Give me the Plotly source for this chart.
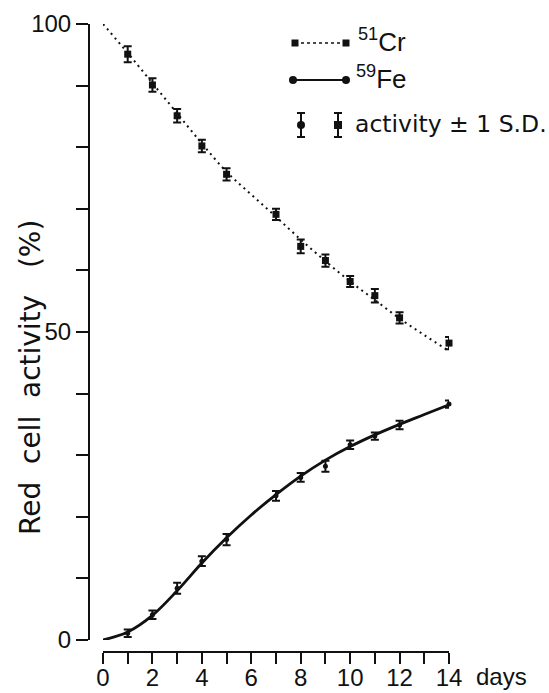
import plotly.graph_objects as go

# ---- data ----
days = [1, 2, 3, 4, 5, 7, 8, 9, 10, 11, 12, 14]
cr_activity = [95.1, 90.1, 85.1, 80.2, 75.6, 69.1, 63.9, 61.6, 58.2, 55.9, 52.3, 48.2]
cr_sd = [1.3, 1.1, 1.1, 1.0, 1.0, 0.9, 1.1, 1.0, 0.9, 1.1, 0.9, 1.0]
fe_activity = [1.1, 4.1, 8.4, 12.8, 16.3, 23.4, 26.4, 28.2, 31.7, 33.1, 34.9, 38.3]
fe_sd = [0.6, 0.7, 0.9, 0.8, 0.9, 0.8, 0.7, 0.9, 0.7, 0.6, 0.7, 0.6]

curve_days = [0, 1, 2, 3, 4, 5, 6, 7, 8, 9, 10, 11, 12, 13, 14]
cr_curve = [100, 95.3, 90.4, 85.5, 80.6, 76.0, 72.3, 68.7, 65.0, 61.5, 58.2, 55.2, 52.2, 49.5, 46.9]
fe_curve = [0, 1.3, 4.0, 8.0, 12.5, 16.6, 20.3, 23.6, 26.6, 29.2, 31.4, 33.3, 35.0, 36.6, 38.2]

x_tick_vals = list(range(0, 15))
x_tick_text = [str(v) if v % 2 == 0 else "" for v in x_tick_vals]
y_tick_vals = list(range(0, 101, 10))
y_tick_text = [str(v) if v % 50 == 0 else "" for v in y_tick_vals]

W, H = 549, 693
FONT = "Liberation Sans, Arial, Helvetica, sans-serif"
WIDE = "DejaVu Sans, Verdana, sans-serif"
BLACK = "#111111"

fig = go.Figure()

# fitted curves
fig.add_trace(go.Scatter(x=curve_days, y=cr_curve, mode="lines", line_shape="spline",
                         line=dict(color=BLACK, width=2, dash="2px,4px"), showlegend=False,
                         hoverinfo="skip", cliponaxis=False))
fig.add_trace(go.Scatter(x=curve_days, y=fe_curve, mode="lines", line_shape="spline",
                         line=dict(color=BLACK, width=2.8), showlegend=False,
                         hoverinfo="skip", cliponaxis=False))
# measured points with error bars
fig.add_trace(go.Scatter(x=days, y=cr_activity, mode="markers",
                         marker=dict(symbol="square", size=7, color=BLACK),
                         error_y=dict(type="data", array=cr_sd, color=BLACK, thickness=2, width=4),
                         showlegend=False, cliponaxis=False))
fig.add_trace(go.Scatter(x=days, y=fe_activity, mode="markers",
                         marker=dict(symbol="circle", size=5, color=BLACK),
                         error_y=dict(type="data", array=fe_sd, color=BLACK, thickness=2, width=4),
                         showlegend=False, cliponaxis=False))

# ---- legend key drawn on a hidden pixel-space axis pair ----
fig.add_trace(go.Scatter(x=[295, 346], y=[43, 43], mode="lines+markers", xaxis="x3", yaxis="y3",
                         line=dict(color=BLACK, width=1.5, dash="3px,3px"),
                         marker=dict(symbol="square", size=7, color=BLACK),
                         showlegend=False, hoverinfo="skip", cliponaxis=False))
fig.add_trace(go.Scatter(x=[293, 346], y=[80, 80], mode="lines+markers", xaxis="x3", yaxis="y3",
                         line=dict(color=BLACK, width=2.2),
                         marker=dict(symbol="circle", size=8, color=BLACK),
                         showlegend=False, hoverinfo="skip", cliponaxis=False))
fig.add_trace(go.Scatter(x=[301], y=[125], mode="markers", xaxis="x3", yaxis="y3",
                         marker=dict(symbol="circle", size=8, color=BLACK),
                         error_y=dict(type="data", array=[12], color=BLACK, thickness=2, width=4),
                         showlegend=False, hoverinfo="skip", cliponaxis=False))
fig.add_trace(go.Scatter(x=[338], y=[125], mode="markers", xaxis="x3", yaxis="y3",
                         marker=dict(symbol="square", size=8, color=BLACK),
                         error_y=dict(type="data", array=[12], color=BLACK, thickness=2, width=4),
                         showlegend=False, hoverinfo="skip", cliponaxis=False))

ann = []
ann.append(dict(text="<sup>51</sup>Cr", x=356 / W, y=1 - 40 / H, xref="paper", yref="paper",
                xanchor="left", yanchor="middle", showarrow=False,
                font=dict(family=FONT, size=26, color=BLACK)))
ann.append(dict(text="<sup>59</sup>Fe", x=354 / W, y=1 - 77 / H, xref="paper", yref="paper",
                xanchor="left", yanchor="middle", showarrow=False,
                font=dict(family=FONT, size=26, color=BLACK)))
ann.append(dict(text="activity ± 1 S.D.", x=353 / W, y=1 - 124 / H, xref="paper", yref="paper",
                xanchor="left", yanchor="middle", showarrow=False,
                font=dict(family=WIDE, size=23.5, color=BLACK)))
ann.append(dict(text="days", x=474 / W, y=1 - 676 / H, xref="paper", yref="paper",
                xanchor="left", yanchor="middle", showarrow=False,
                font=dict(family=FONT, size=24, color=BLACK)))
ann.append(dict(text="Red\u00a0 cell\u00a0 activity\u00a0\u00a0\u00a0(%)", x=30 / W, y=1 - 378 / H,
                xref="paper", yref="paper", textangle=-90,
                xanchor="center", yanchor="middle", showarrow=False,
                font=dict(family=WIDE, size=28, color=BLACK)))

fig.update_layout(
    width=W, height=H,
    margin=dict(l=0, r=0, t=0, b=0, autoexpand=False),
    paper_bgcolor="white", plot_bgcolor="rgba(0,0,0,0)",
    showlegend=False,
    annotations=ann,
    xaxis=dict(domain=[103 / W, 449 / W], range=[0, 14], anchor="free", position=(H - 652) / H,
               automargin=False,
               showgrid=False, zeroline=False, showline=True, linecolor=BLACK, linewidth=2,
               ticks="outside", ticklen=11, tickwidth=2, tickcolor=BLACK,
               ticklabelstandoff=-7,
               tickmode="array", tickvals=x_tick_vals, ticktext=x_tick_text,
               tickfont=dict(family=FONT, size=24, color=BLACK)),
    yaxis=dict(domain=[(H - 640) / H, (H - 24) / H], range=[0, 100], anchor="free", position=89 / W,
               automargin=False,
               showgrid=False, zeroline=False, showline=True, linecolor=BLACK, linewidth=2,
               ticks="outside", ticklen=12, tickwidth=2, tickcolor=BLACK,
               tickmode="array", tickvals=y_tick_vals, ticktext=y_tick_text,
               tickfont=dict(family=FONT, size=24, color=BLACK)),
    xaxis3=dict(domain=[0, 1], range=[0, W], anchor="y3", visible=False, fixedrange=True,
                automargin=False),
    yaxis3=dict(domain=[0, 1], range=[H, 0], anchor="x3", visible=False, fixedrange=True,
                automargin=False),
)

fig.write_html("out.html", config={"displayModeBar": False},
               post_script="document.body.style.margin='0px';document.body.style.overflow='hidden';")
